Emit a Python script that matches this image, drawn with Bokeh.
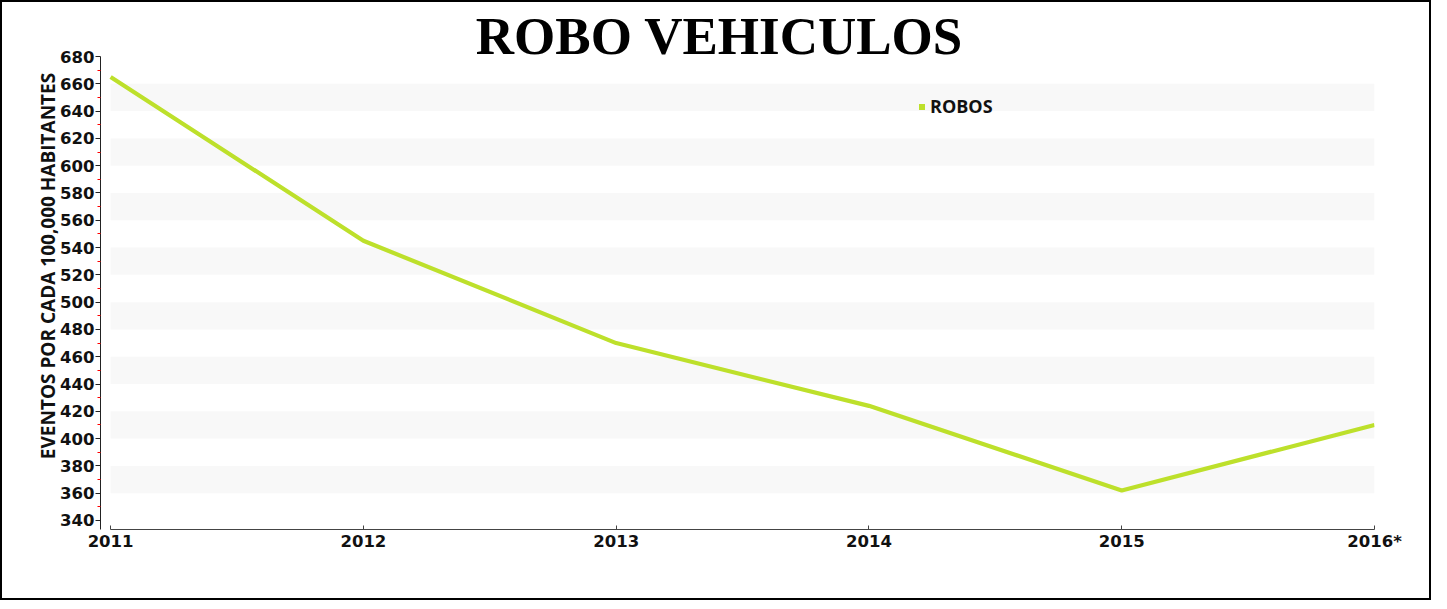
from bokeh.plotting import figure
from bokeh.models import ColumnDataSource, Range1d, FixedTicker, Legend, LegendItem, Label, BoxAnnotation
from bokeh.embed import file_html
from bokeh.resources import INLINE

years = [2011, 2012, 2013, 2014, 2015, 2016]
year_labels = ["2011", "2012", "2013", "2014", "2015", "2016*"]
robos = [665, 545, 470, 424, 362, 410]
y_ticks = list(range(340, 681, 20))
band_bottoms = list(range(360, 641, 40))

src = ColumnDataSource(dict(x=years, y=robos))

p = figure(width=1431, height=600, output_backend="svg", toolbar_location=None,
           x_range=Range1d(2010.96, 2016.0), y_range=Range1d(333.4, 719.57),
           min_border_left=98, min_border_right=59, min_border_bottom=73, min_border_top=0)
p.styles = {"border": "2px solid black", "box-sizing": "border-box"}
p.outline_line_color = None
p.background_fill_color = "white"

for b in band_bottoms:
    p.add_layout(BoxAnnotation(left=years[0], right=years[-1], bottom=b, top=b + 20,
                               fill_color="#f8f8f8", fill_alpha=1.0, line_color=None,
                               level="underlay"))

title = Label(text="ROBO VEHICULOS", x=619, y=494, x_units="screen", y_units="screen",
              text_align="center", text_baseline="alphabetic",
              text_font="Liberation Serif", text_font_size="53px", text_font_style="bold",
              text_color="black")
p.add_layout(title)

p.xgrid.grid_line_color = None
p.ygrid.grid_line_color = None

line = p.line("x", "y", source=src, line_color="#bde02b", line_width=4.2)
proxy = p.scatter("x", "y", source=src, marker="square", size=0,
                  fill_color="#bde02b", line_color=None, line_width=0)

p.xaxis.ticker = FixedTicker(ticks=years)
p.xaxis.major_label_overrides = {y: l for y, l in zip(years, year_labels)}
p.xaxis.bounds = (2011, 2016)
p.xaxis.major_tick_in = 4
p.xaxis.major_tick_out = 0
p.xaxis.minor_tick_line_color = None
p.xaxis.axis_line_color = "#444444"
p.xaxis.major_tick_line_color = "#444444"
p.xaxis.major_label_standoff = 2
p.xaxis.major_label_text_font = "DejaVu Sans"
p.xaxis.major_label_text_font_style = "bold"
p.xaxis.major_label_text_font_size = "16.5px"
p.xaxis.major_label_text_color = "#111111"

p.yaxis.ticker = FixedTicker(ticks=y_ticks, minor_ticks=list(range(350, 681, 20)))
p.yaxis.bounds = (333.4, 680)
p.yaxis.major_tick_in = 0
p.yaxis.major_tick_out = 5
p.yaxis.minor_tick_in = 0
p.yaxis.minor_tick_out = 3
p.yaxis.minor_tick_line_color = "red"
p.yaxis.axis_line_color = "#222222"
p.yaxis.major_tick_line_color = "#222222"
p.yaxis.major_label_standoff = 1
p.yaxis.major_label_text_font = "DejaVu Sans"
p.yaxis.major_label_text_font_style = "bold"
p.yaxis.major_label_text_font_size = "16.5px"
p.yaxis.major_label_text_color = "#111111"
p.yaxis.axis_label = "EVENTOS POR CADA 100,000 HABITANTES"
p.yaxis.axis_label_text_font = "Open Sans"
p.yaxis.axis_label_text_font_style = "bold"
p.yaxis.axis_label_text_font_size = "19px"
p.yaxis.axis_label_text_color = "#111111"
p.yaxis.axis_label_standoff = -4

legend = Legend(items=[LegendItem(label="ROBOS", renderers=[proxy])],
                location=(814, 411), orientation="vertical",
                padding=0, margin=0, spacing=0, border_line_color=None,
                background_fill_alpha=0, glyph_width=15, glyph_height=15,
                label_standoff=1, label_text_font="Open Sans", label_text_font_style="bold",
                label_text_font_size="18px", label_text_color="#111111", label_height=20)
p.add_layout(legend, "center")

open("out.html", "w").write(file_html(p, INLINE))
